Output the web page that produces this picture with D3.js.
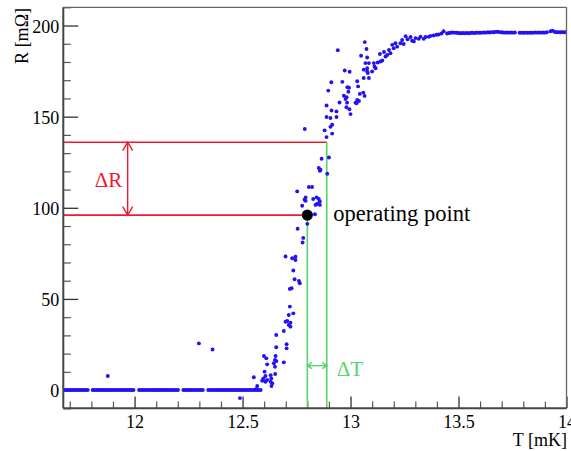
<!DOCTYPE html>
<html>
<head>
<meta charset="utf-8">
<script src="https://cdn.jsdelivr.net/npm/d3@7"></script>
<style>
  html, body { margin: 0; padding: 0; background: #fff; }
  svg { display: block; font-family: "Liberation Serif", "Times New Roman", serif; }
</style>
</head>
<body>
<svg id="chart" width="571" height="451"></svg>
<script>
// Superconducting branch: temperatures (mK) of readings at R = 0
const zeroBranchT = [
  11.675, 11.684, 11.693, 11.702, 11.711, 11.72, 11.729, 11.738, 11.747, 11.756, 11.765, 11.774, 11.783,
  11.806, 11.815, 11.824, 11.833, 11.842, 11.851, 11.86, 11.869, 11.878, 11.887, 11.896, 11.905, 11.914,
  11.923, 11.932, 11.941, 11.95, 11.959, 11.968, 11.977, 11.986, 11.995,
  12.021, 12.03, 12.039, 12.048, 12.057, 12.066, 12.075, 12.084, 12.093, 12.102, 12.111, 12.12, 12.129,
  12.138, 12.147, 12.156, 12.165, 12.174, 12.183, 12.192, 12.201,
  12.226, 12.235, 12.244, 12.253, 12.262, 12.271, 12.28, 12.289, 12.298, 12.307, 12.316,
  12.341, 12.35, 12.359, 12.368, 12.377, 12.386, 12.395, 12.404, 12.413, 12.422, 12.431, 12.44, 12.449,
  12.458, 12.467, 12.476, 12.485, 12.494, 12.503, 12.512, 12.521, 12.53, 12.539, 12.548, 12.557, 12.566,
  12.575, 12.584
];

// Stray readings away from the curve [T (mK), R (mΩ)]
const strayPts = [[11.876, 7.7], [12.298, 25.6], [12.361, 22.3], [12.488, -4.4]];

// Transition region [T (mK), R (mΩ)]
const transitionPts = [
  [12.552, 7.0], [12.563, 0.6], [12.568, 2.2],
  [12.591, 5.1], [12.596, 6.4], [12.602, 10.1], [12.606, 7.7], [12.606, 4.6], [12.614, 5.5],
  [12.599, 18.7], [12.610, 17.4], [12.614, 14.1],
  [12.630, 8.2], [12.633, 6.4], [12.630, 4.6], [12.638, 3.7], [12.634, 2.2], [12.651, 8.8],
  [12.653, 18.7], [12.650, 16.5], [12.657, 15.9], [12.645, 14.7], [12.650, 12.8], [12.656, 23.5], [12.656, 30.2],
  [12.691, 15.2], [12.691, 32.4], [12.704, 25.1], [12.704, 22.9],
  [12.714, 41.2], [12.707, 37.9], [12.699, 37.5], [12.722, 37.0], [12.714, 35.7], [12.722, 34.8],
  [12.735, 42.1], [12.719, 45.8],
  [12.719, 55.5], [12.727, 55.9], [12.741, 60.8], [12.761, 59.9], [12.765, 58.6], [12.735, 65.6],
  [12.699, 73.3], [12.730, 72.3], [12.745, 73.2], [12.745, 71.4],
  [12.755, 88.5], [12.781, 83.5], [12.778, 81.0], [12.800, 91.2],
  [12.776, 101.1], [12.753, 109.0], [12.792, 105.7], [12.792, 103.8], [12.787, 104.4],
  [12.807, 111.4], [12.822, 111.4],
  [12.827, 104.8], [12.843, 105.7], [12.853, 104.8], [12.858, 103.5], [12.846, 102.2], [12.838, 101.6],
  [12.858, 101.6], [12.835, 96.5],
  [12.853, 121.8], [12.858, 120.3], [12.861, 120.9], [12.866, 126.9], [12.892, 118.7], [12.900, 127.6],
  [12.788, 143.2],
  [12.880, 142.5], [12.889, 138.8], [12.915, 140.7], [12.907, 144.4], [12.915, 145.6], [12.889, 149.8],
  [12.907, 149.3], [12.935, 149.8],
  [12.889, 156.1], [12.912, 153.4], [12.935, 152.9], [12.949, 157.8], [12.969, 161.5], [12.977, 159.7],
  [12.897, 164.3], [12.911, 168.9], [12.962, 169.1], [12.985, 166.2], [12.993, 165.9], [12.990, 163.7],
  [12.982, 160.7], [12.973, 175.3], [12.996, 174.6], [12.941, 186.5],
  [12.984, 157.7], [12.995, 154.1], [12.981, 155.2], [13.000, 151.4], [13.023, 157.7], [13.031, 159.2],
  [13.043, 162.5], [13.059, 163.2], [13.065, 161.4], [13.039, 158.6], [13.028, 157.4],
  [13.031, 169.4], [13.035, 166.6], [13.061, 171.2], [13.085, 171.2], [13.077, 174.8], [13.061, 175.8],
  [13.066, 190.9], [13.049, 183.4], [13.074, 187.1], [13.077, 182.5], [13.069, 179.4], [13.085, 179.4],
  [13.077, 176.6], [13.100, 174.8], [13.080, 173.9],
  [13.108, 179.4], [13.126, 179.7], [13.139, 180.3], [13.116, 176.6], [13.147, 180.8], [13.136, 184.4],
  [13.111, 177.5],
  [13.162, 183.0], [13.178, 186.6], [13.185, 184.8], [13.193, 189.4], [13.208, 190.3], [13.216, 188.4],
  [13.200, 187.5], [13.170, 183.8], [13.155, 185.5]
];

// Approach to the normal state and the plateau [T (mK), R (mΩ)]
const plateauPts = [
  [13.231, 190.3], [13.239, 192.1], [13.246, 189.9], [13.255, 194.1], [13.264, 192.5], [13.278, 193.7],
  [13.285, 191.7], [13.293, 191.3], [13.301, 193.1], [13.316, 192.7], [13.324, 193.9], [13.339, 192.7],
  [13.347, 193.7], [13.362, 193.8], [13.370, 194.3], [13.385, 194.5], [13.398, 194.9], [13.408, 195.1],
  [13.421, 195.6], [13.431, 196.9], [13.447, 195.6],
  [13.455, 195.9], [13.464, 196.0], [13.473, 196.2], [13.482, 196.1], [13.491, 196.0], [13.5, 195.9],
  [13.509, 195.8], [13.518, 195.9], [13.527, 195.8], [13.536, 195.9], [13.545, 195.8], [13.554, 195.9],
  [13.563, 196.0], [13.572, 195.9], [13.581, 196.0], [13.59, 196.1], [13.599, 196.0], [13.608, 196.1],
  [13.617, 196.2], [13.626, 196.1], [13.635, 196.3], [13.644, 196.2], [13.653, 196.4], [13.662, 196.3],
  [13.671, 196.5], [13.68, 196.6], [13.689, 196.4], [13.698, 196.3], [13.707, 196.2], [13.716, 196.1],
  [13.725, 196.2], [13.734, 196.1], [13.743, 196.2], [13.752, 196.1], [13.761, 196.2],
  [13.783, 196.0], [13.792, 196.1], [13.801, 196.0], [13.81, 196.1], [13.819, 196.0], [13.828, 196.1],
  [13.837, 196.0], [13.846, 196.1], [13.855, 196.2], [13.864, 196.1], [13.873, 196.2], [13.882, 196.1],
  [13.891, 196.2], [13.9, 196.1], [13.909, 196.3],
  [13.926, 196.9], [13.935, 197.2], [13.944, 196.6], [13.953, 196.3], [13.962, 196.4], [13.971, 196.3],
  [13.98, 196.4], [13.989, 196.3], [13.998, 196.3]
];

// Operating point and the point reached after the temperature step [T (mK), R (mΩ)]
const operatingPoint = [12.8, 96];
const steppedPoint = [12.89, 136];

// Axis ranges and tick labels
const xDomain = [11.67, 14];
const yDomain = [-10, 210];
const xMajorTicks = [12, 12.5, 13, 13.5, 14];
const xTickLabels = ["12", "12.5", "13", "13.5", "14"];
const yMajorTicks = [0, 50, 100, 150, 200];
const yTickLabels = ["0", "50", "100", "150", "200"];
const xTitle = "T [mK]";
const yTitle = "R [mΩ]";

const W = 571, H = 451;
const margin = { left: 63.3, right: 4.5, top: 7.3, bottom: 42.7 };
const pw = W - margin.left - margin.right;
const ph = H - margin.top - margin.bottom;

const blue = "#2412f2";
const red = "#f2192c";
const green = "#58d46c";

const svg = d3.select("#chart");
const g = svg.append("g").attr("transform", `translate(${margin.left},${margin.top})`);

const x = d3.scaleLinear().domain(xDomain).range([0, pw]);
const y = d3.scaleLinear().domain(yDomain).range([ph, 0]);

svg.append("defs").append("clipPath").attr("id", "plotClip")
  .append("rect").attr("width", pw).attr("height", ph);

// Minor ticks (drawn inward)
const xMinor = d3.range(117, 141).map(d => d / 10).filter(v => !xMajorTicks.some(m => Math.abs(m - v) < 1e-6));
const yMinor = d3.range(-10, 211, 10).filter(v => !yMajorTicks.includes(v));

g.append("g").attr("transform", `translate(0,${ph})`)
  .call(d3.axisBottom(x).tickValues(xMinor).tickSize(-6.7).tickFormat(""))
  .call(a => a.select(".domain").remove())
  .call(a => a.selectAll("line").attr("stroke", "#555").attr("stroke-width", 1.2));

g.append("g")
  .call(d3.axisLeft(y).tickValues(yMinor).tickSize(-7.5).tickFormat(""))
  .call(a => a.select(".domain").remove())
  .call(a => a.selectAll("line").attr("stroke", "#555").attr("stroke-width", 1.2));

// Major ticks with labels
g.append("g").attr("transform", `translate(0,${ph})`)
  .call(d3.axisBottom(x).tickValues(xMajorTicks).tickSize(-11.7).tickPadding(7.3)
    .tickFormat((d, i) => xTickLabels[i]))
  .call(a => a.select(".domain").remove())
  .call(a => a.selectAll("line").attr("stroke", "#333").attr("stroke-width", 1.3))
  .call(a => a.selectAll("text").attr("font-size", 18).attr("fill", "#000")
    .attr("font-family", "Liberation Serif, serif"));

g.append("g")
  .call(d3.axisLeft(y).tickValues(yMajorTicks).tickSize(-15).tickPadding(4)
    .tickFormat((d, i) => yTickLabels[i]))
  .call(a => a.select(".domain").remove())
  .call(a => a.selectAll("line").attr("stroke", "#333").attr("stroke-width", 1.3))
  .call(a => a.selectAll("text").attr("font-size", 18).attr("fill", "#000").attr("dy", "0.38em")
    .attr("font-family", "Liberation Serif, serif"));

// Working-point construction lines
const ann = g.append("g");
const xo = x(operatingPoint[0]), yo = y(operatingPoint[1]);
const xs = x(steppedPoint[0]), ys = y(steppedPoint[1]);

ann.append("line").attr("x1", 0).attr("x2", xs).attr("y1", ys).attr("y2", ys)
  .attr("stroke", red).attr("stroke-width", 1.6);
ann.append("line").attr("x1", 0).attr("x2", xo).attr("y1", yo).attr("y2", yo)
  .attr("stroke", red).attr("stroke-width", 1.6);
ann.append("line").attr("x1", xo).attr("x2", xo).attr("y1", yo).attr("y2", ph)
  .attr("stroke", green).attr("stroke-width", 1.6);
ann.append("line").attr("x1", xs).attr("x2", xs).attr("y1", ys).attr("y2", ph)
  .attr("stroke", green).attr("stroke-width", 1.6);

// ΔR double arrow
const xArrow = x(11.968);
ann.append("line").attr("x1", xArrow).attr("x2", xArrow).attr("y1", ys).attr("y2", yo)
  .attr("stroke", red).attr("stroke-width", 1.4);
ann.append("path")
  .attr("d", `M${xArrow - 5},${ys + 8.5}L${xArrow},${ys}L${xArrow + 5},${ys + 8.5}` +
             `M${xArrow - 5},${yo - 8.5}L${xArrow},${yo}L${xArrow + 5},${yo - 8.5}`)
  .attr("fill", "none").attr("stroke", red).attr("stroke-width", 1.4);

// ΔT double arrow
const yArrow = y(13.4);
ann.append("line").attr("x1", xo).attr("x2", xs).attr("y1", yArrow).attr("y2", yArrow)
  .attr("stroke", green).attr("stroke-width", 1.4);
ann.append("path")
  .attr("d", `M${xo + 4.5},${yArrow - 3}L${xo},${yArrow}L${xo + 4.5},${yArrow + 3}` +
             `M${xs - 4.5},${yArrow - 3}L${xs},${yArrow}L${xs - 4.5},${yArrow + 3}`)
  .attr("fill", "none").attr("stroke", green).attr("stroke-width", 1.4);

// Measured points
const allPts = [
  ...zeroBranchT.map(t => [t, 0]),
  ...strayPts,
  ...transitionPts,
  ...plateauPts
];
g.append("g").attr("clip-path", "url(#plotClip)")
  .selectAll("circle").data(allPts).join("circle")
  .attr("cx", d => x(d[0])).attr("cy", d => y(d[1])).attr("r", 1.95)
  .attr("fill", blue);

// Operating point marker
g.append("circle").attr("cx", xo).attr("cy", yo).attr("r", 5.6).attr("fill", "#000");

// Frame
g.append("line").attr("x1", 0).attr("x2", pw).attr("y1", 0).attr("y2", 0)
  .attr("stroke", "#666").attr("stroke-width", 1.3);
g.append("line").attr("x1", pw).attr("x2", pw).attr("y1", 0).attr("y2", ph)
  .attr("stroke", "#666").attr("stroke-width", 1.3);
g.append("line").attr("x1", 0).attr("x2", 0).attr("y1", 0).attr("y2", ph)
  .attr("stroke", "#444").attr("stroke-width", 2);
g.append("line").attr("x1", 0).attr("x2", pw).attr("y1", ph).attr("y2", ph)
  .attr("stroke", "#444").attr("stroke-width", 2);

// Annotation text
g.append("text").attr("x", xo + 26).attr("y", yo + 5.5)
  .attr("font-size", 22.5).attr("fill", "#000").text("operating point");
g.append("text").attr("x", xArrow - 5.5).attr("y", (ys + yo) / 2 + 8)
  .attr("text-anchor", "end").attr("font-size", 21).attr("fill", red).text("ΔR");
g.append("text").attr("x", xs + 10).attr("y", yArrow + 10.5)
  .attr("font-size", 21).attr("fill", green).text("ΔT");

// Axis titles
svg.append("text").attr("x", 567).attr("y", 445.5).attr("text-anchor", "end")
  .attr("font-size", 18).attr("fill", "#000").text(xTitle);
svg.append("text").attr("transform", "translate(27.5,8) rotate(-90)")
  .attr("text-anchor", "end").attr("font-size", 18).attr("fill", "#000").text(yTitle);
</script>
</body>
</html>
